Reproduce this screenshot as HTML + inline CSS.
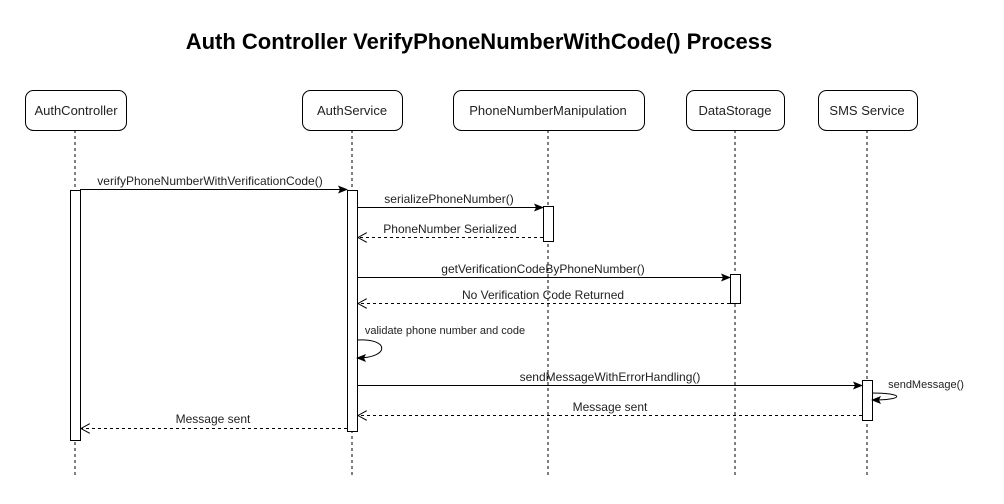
<!DOCTYPE html>
<html><head><meta charset="utf-8"><style>body{margin:0;background:#fff}svg{display:block}</style></head><body>
<svg width="1004" height="504" xmlns="http://www.w3.org/2000/svg" font-family="'Liberation Sans', 'DejaVu Sans', sans-serif">
<defs>
<marker id="f" markerWidth="10" markerHeight="8" refX="9" refY="4" orient="auto" markerUnits="userSpaceOnUse"><path d="M0,0 L10,4 L0,8 L2,4 Z" fill="#000"/></marker>
<marker id="o" markerWidth="10" markerHeight="10" refX="9" refY="5" orient="auto" markerUnits="userSpaceOnUse"><path d="M0,0 L9,5 L0,10" fill="none" stroke="#000"/></marker>
</defs>
<text x="479" y="49" text-anchor="middle" font-size="22" font-weight="bold">Auth Controller VerifyPhoneNumberWithCode() Process</text>
<g stroke="#000" stroke-dasharray="3,3" fill="none">
<line x1="75" y1="130" x2="75" y2="476"/><line x1="352" y1="130" x2="352" y2="476"/>
<line x1="548" y1="130" x2="548" y2="476"/><line x1="735" y1="130" x2="735" y2="476"/>
<line x1="867" y1="130" x2="867" y2="476"/>
</g>
<g stroke="#000" fill="#fff">
<rect x="25.5" y="90.5" width="101" height="40" rx="8"/>
<rect x="302.5" y="90.5" width="100" height="40" rx="8"/>
<rect x="453.5" y="90.5" width="191" height="40" rx="8"/>
<rect x="686.5" y="90.5" width="98" height="40" rx="8"/>
<rect x="818.5" y="90.5" width="99" height="40" rx="8"/>
<rect x="70.5" y="190.5" width="10" height="250"/>
<rect x="347.5" y="190.5" width="10" height="241"/>
<rect x="543.5" y="206.5" width="10" height="35"/>
<rect x="730.5" y="274.5" width="10" height="29"/>
<rect x="862.5" y="380.5" width="10" height="40"/>
</g>
<g font-size="13" text-anchor="middle" fill="#222">
<text x="76" y="115">AuthController</text><text x="352" y="115">AuthService</text>
<text x="548" y="115">PhoneNumberManipulation</text><text x="735" y="115">DataStorage</text>
<text x="867" y="115">SMS Service</text>
</g>
<g stroke="#000" fill="none">
<line x1="80" y1="189.5" x2="347" y2="189.5" marker-end="url(#f)"/>
<line x1="357" y1="207.5" x2="543" y2="207.5" marker-end="url(#f)"/>
<line x1="543" y1="237.5" x2="358" y2="237.5" stroke-dasharray="3,3" marker-end="url(#o)"/>
<line x1="357" y1="277.5" x2="730" y2="277.5" marker-end="url(#f)"/>
<line x1="730" y1="303.5" x2="358" y2="303.5" stroke-dasharray="3,3" marker-end="url(#o)"/>
<path d="M357,340 C390,338 390,358 357,358" marker-end="url(#f)"/>
<line x1="357" y1="385.5" x2="862" y2="385.5" marker-end="url(#f)"/>
<path d="M872,393 C905,393 905,400 872,400" marker-end="url(#f)"/>
<line x1="862" y1="415.5" x2="358" y2="415.5" stroke-dasharray="3,3" marker-end="url(#o)"/>
<line x1="347" y1="428.5" x2="81" y2="428.5" stroke-dasharray="3,3" marker-end="url(#o)"/>
</g>
<g font-size="12" text-anchor="middle" fill="#222">
<text x="210" y="185">verifyPhoneNumberWithVerificationCode()</text>
<text x="449" y="203">serializePhoneNumber()</text>
<text x="450" y="233">PhoneNumber Serialized</text>
<text x="543" y="273">getVerificationCodeByPhoneNumber()</text>
<text x="543" y="299">No Verification Code Returned</text>
<text x="610" y="381">sendMessageWithErrorHandling()</text>
<text x="610" y="411">Message sent</text>
<text x="213" y="423">Message sent</text>
<text x="926" y="388" font-size="11">sendMessage()</text>
<text x="445" y="334" font-size="11">validate phone number and code</text>
</g>
</svg>
</body></html>
